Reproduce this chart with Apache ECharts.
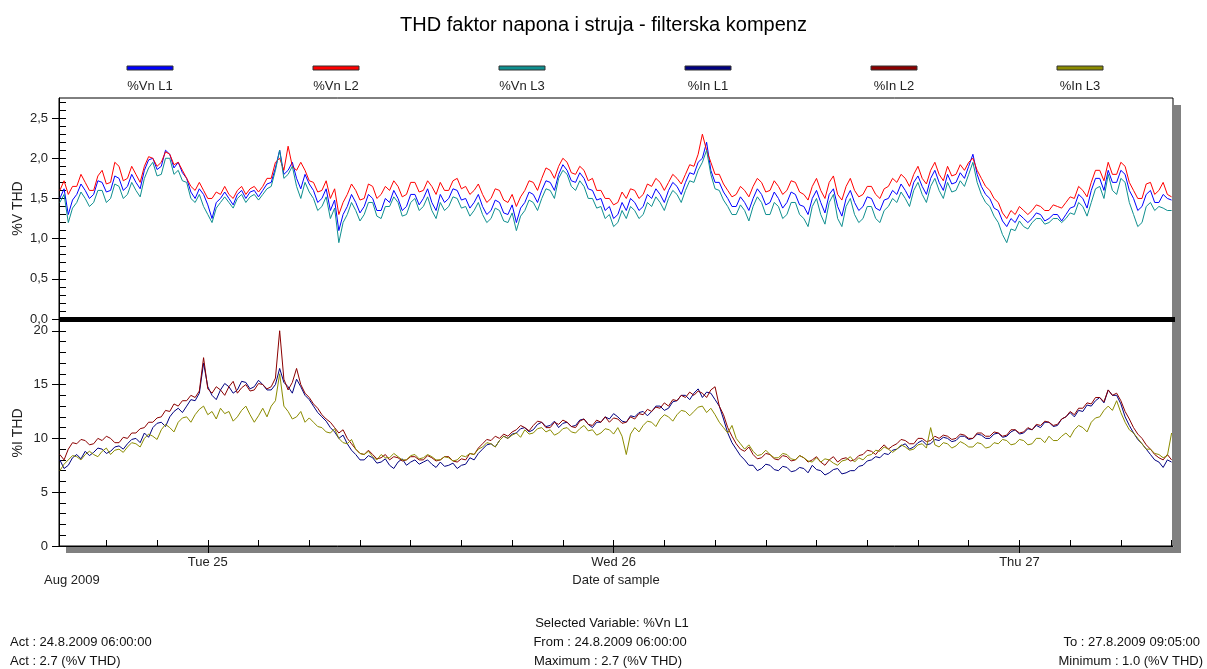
<!DOCTYPE html>
<html>
<head>
<meta charset="utf-8">
<script src="https://cdn.jsdelivr.net/npm/echarts@6/dist/echarts.min.js"></script>
<style>
html,body{margin:0;padding:0;background:#fff;}
#chart{width:1207px;height:669px;}
</style>
</head>
<body>
<div id="chart"></div>
<script>
// ---- time grid (hours since 24.8.2009 00:00) ----
const startHour = 15.25;
const stepHours = 0.25;
const axisMinHour = 15.2;
const axisMaxHour = 81.083;

// ---- tick positions / labels ----
const dayTicks = [24, 48, 72];
const dayLabels = ['Tue 25', 'Wed 26', 'Thu 27'];
const hourTicks = [18,21,24,27,30,33,36,39,42,45,48,51,54,57,60,63,66,69,72,75,78,81];
const vMajorTicks = [0, 0.5, 1.0, 1.5, 2.0, 2.5];
const vMinorTicks = [0,0.1,0.2,0.3,0.4,0.5,0.6,0.7,0.8,0.9,1.0,1.1,1.2,1.3,1.4,1.5,1.6,1.7,1.8,1.9,2.0,2.1,2.2,2.3,2.4,2.5,2.6,2.7];
const iMajorTicks = [0, 5, 10, 15, 20];
const iMinorTicks = [0,1,2,3,4,5,6,7,8,9,10,11,12,13,14,15,16,17,18,19,20,21];

// ---- series names / colours ----
const seriesNames = ['%Vn L1', '%Vn L2', '%Vn L3', '%In L1', '%In L2', '%In L3'];
const seriesColors = ['#0000ff', '#ff0000', '#0f8f8f', '#000080', '#8b0000', '#8b8b00'];

// ---- voltage THD (%) ----
const vnL1 = [
1.5,1.62, 1.3,1.48, 1.55,1.68, 1.6,1.5, 1.55,1.72, 1.7,1.58, 1.6,1.78, 1.75,1.6, 1.65,1.8, 1.7,1.62, 1.85,1.98, 2.0,1.86, 1.9,2.1, 2.05,1.88, 1.95,1.82,
1.75,1.58, 1.5,1.62, 1.55,1.42, 1.25,1.45, 1.5,1.58, 1.5,1.42, 1.55,1.6, 1.5,1.58, 1.6,1.52, 1.6,1.68, 1.7,1.88, 2.1,1.8, 1.85,1.95, 1.75,1.62, 1.8,1.68,
1.6,1.45, 1.5,1.62, 1.35,1.48, 1.1,1.3, 1.4,1.55, 1.45,1.32, 1.4,1.55, 1.5,1.35, 1.35,1.5, 1.45,1.6, 1.5,1.35, 1.4,1.55, 1.55,1.42, 1.5,1.62, 1.45,1.35,
1.55,1.45, 1.5,1.62, 1.6,1.48, 1.5,1.38, 1.45,1.55, 1.4,1.3, 1.35,1.48, 1.45,1.32, 1.3,1.42, 1.2,1.38, 1.45,1.58, 1.55,1.45, 1.6,1.72, 1.7,1.6, 1.8,1.92,
1.85,1.72, 1.7,1.82, 1.75,1.62, 1.6,1.48, 1.5,1.35, 1.4,1.25, 1.3,1.45, 1.35,1.5, 1.45,1.35, 1.4,1.55, 1.5,1.62, 1.55,1.45, 1.6,1.7, 1.65,1.55, 1.7,1.82,
1.8,1.95, 2.0,2.2, 1.85,1.7, 1.7,1.58, 1.5,1.4, 1.4,1.52, 1.45,1.35, 1.5,1.62, 1.55,1.42, 1.45,1.58, 1.5,1.38, 1.45,1.58, 1.55,1.42, 1.4,1.3, 1.5,1.6,
1.45,1.32, 1.55,1.62, 1.4,1.28, 1.5,1.6, 1.45,1.35, 1.4,1.52, 1.5,1.38, 1.35,1.48, 1.5,1.6, 1.55,1.68, 1.6,1.5, 1.7,1.78, 1.65,1.55, 1.75,1.85, 1.7,1.6,
1.8,1.68, 1.7,1.82, 1.75,1.9, 2.05,1.8, 1.65,1.55, 1.5,1.38, 1.35,1.22, 1.15,1.25, 1.2,1.3, 1.25,1.2, 1.25,1.32, 1.3,1.22, 1.25,1.3, 1.3,1.22, 1.3,1.38,
1.4,1.55, 1.5,1.38, 1.6,1.75, 1.75,1.6, 1.85,1.7, 1.7,1.85, 1.8,1.6, 1.5,1.35, 1.4,1.55, 1.6,1.45, 1.45,1.55, 1.5,1.48];
const vnL2 = [
1.6,1.72, 1.55,1.65, 1.65,1.8, 1.7,1.6, 1.6,1.78, 1.85,1.68, 1.7,1.95, 1.9,1.72, 1.75,1.9, 1.8,1.7, 1.9,2.02, 2.0,1.9, 1.95,2.08, 2.05,1.92, 1.95,1.85,
1.75,1.65, 1.6,1.7, 1.6,1.5, 1.5,1.58, 1.55,1.65, 1.55,1.5, 1.6,1.65, 1.55,1.62, 1.65,1.58, 1.65,1.75, 1.75,1.95, 2.0,1.85, 2.15,1.9, 1.85,1.95, 1.85,1.72,
1.7,1.58, 1.6,1.72, 1.5,1.62, 1.3,1.45, 1.55,1.68, 1.6,1.48, 1.5,1.68, 1.65,1.5, 1.55,1.65, 1.6,1.72, 1.65,1.52, 1.55,1.7, 1.7,1.58, 1.6,1.72, 1.65,1.55,
1.7,1.6, 1.6,1.72, 1.75,1.62, 1.65,1.55, 1.6,1.68, 1.55,1.45, 1.5,1.62, 1.6,1.48, 1.45,1.55, 1.4,1.52, 1.6,1.72, 1.7,1.6, 1.75,1.88, 1.85,1.75, 1.9,2.0,
1.95,1.82, 1.8,1.9, 1.85,1.72, 1.75,1.6, 1.6,1.5, 1.5,1.42, 1.45,1.58, 1.5,1.62, 1.6,1.5, 1.55,1.68, 1.65,1.75, 1.7,1.6, 1.7,1.8, 1.75,1.68, 1.8,1.92,
1.9,2.05, 2.3,2.1, 1.95,1.8, 1.8,1.68, 1.6,1.52, 1.55,1.65, 1.6,1.52, 1.65,1.75, 1.7,1.58, 1.6,1.72, 1.65,1.55, 1.6,1.72, 1.7,1.58, 1.55,1.48, 1.65,1.75,
1.6,1.5, 1.7,1.78, 1.55,1.48, 1.65,1.75, 1.6,1.52, 1.55,1.65, 1.65,1.55, 1.5,1.62, 1.65,1.75, 1.7,1.8, 1.75,1.65, 1.8,1.9, 1.75,1.68, 1.85,1.95, 1.8,1.72,
1.9,1.78, 1.8,1.92, 1.85,1.95, 2.0,1.85, 1.75,1.65, 1.6,1.5, 1.45,1.32, 1.25,1.35, 1.3,1.4, 1.35,1.3, 1.35,1.42, 1.4,1.35, 1.35,1.42, 1.4,1.38, 1.45,1.52,
1.5,1.65, 1.6,1.52, 1.7,1.85, 1.85,1.72, 1.95,1.8, 1.8,1.95, 1.9,1.7, 1.6,1.5, 1.5,1.68, 1.7,1.55, 1.6,1.7, 1.55,1.52];
const vnL3 = [
1.45,1.55, 1.2,1.38, 1.45,1.58, 1.5,1.4, 1.45,1.6, 1.6,1.45, 1.5,1.68, 1.65,1.5, 1.55,1.7, 1.6,1.52, 1.75,1.88, 1.95,1.78, 1.8,2.0, 2.0,1.8, 1.85,1.72,
1.7,1.5, 1.45,1.55, 1.4,1.3, 1.2,1.38, 1.45,1.52, 1.45,1.38, 1.5,1.55, 1.45,1.52, 1.55,1.48, 1.55,1.62, 1.65,1.85, 2.1,1.75, 1.8,1.9, 1.65,1.5, 1.7,1.58,
1.5,1.35, 1.4,1.52, 1.25,1.38, 0.95,1.2, 1.3,1.45, 1.35,1.22, 1.3,1.45, 1.45,1.28, 1.25,1.4, 1.4,1.52, 1.45,1.28, 1.3,1.45, 1.5,1.35, 1.4,1.52, 1.35,1.25,
1.45,1.35, 1.4,1.52, 1.5,1.38, 1.4,1.28, 1.35,1.45, 1.3,1.2, 1.25,1.38, 1.35,1.22, 1.2,1.32, 1.1,1.28, 1.35,1.48, 1.45,1.35, 1.5,1.62, 1.6,1.5, 1.75,1.85,
1.8,1.65, 1.6,1.72, 1.65,1.5, 1.5,1.38, 1.4,1.25, 1.3,1.15, 1.2,1.35, 1.25,1.4, 1.35,1.25, 1.3,1.45, 1.4,1.52, 1.45,1.35, 1.5,1.6, 1.55,1.45, 1.6,1.72,
1.7,1.85, 1.95,2.1, 1.8,1.62, 1.6,1.48, 1.4,1.3, 1.3,1.42, 1.35,1.22, 1.4,1.52, 1.45,1.3, 1.3,1.45, 1.4,1.25, 1.3,1.45, 1.45,1.3, 1.25,1.15, 1.4,1.5,
1.3,1.18, 1.45,1.55, 1.25,1.15, 1.4,1.5, 1.3,1.2, 1.25,1.4, 1.4,1.25, 1.2,1.35, 1.4,1.5, 1.45,1.58, 1.5,1.4, 1.6,1.7, 1.55,1.45, 1.65,1.75, 1.6,1.5,
1.7,1.58, 1.6,1.72, 1.65,1.8, 1.95,1.7, 1.55,1.45, 1.4,1.28, 1.2,1.05, 0.95,1.12, 1.1,1.22, 1.15,1.12, 1.2,1.25, 1.25,1.18, 1.2,1.25, 1.25,1.2, 1.25,1.32,
1.3,1.45, 1.4,1.28, 1.45,1.62, 1.65,1.5, 1.8,1.6, 1.55,1.75, 1.7,1.45, 1.3,1.15, 1.2,1.4, 1.45,1.35, 1.4,1.38, 1.35,1.35];

// ---- current THD (%) ----
const inL1 = [
8.0,7.2, 7.5,8.2, 8.5,8.1, 8.8,8.4, 8.7,9.1, 9.0,8.6, 8.8,9.2, 9.3,9.0, 9.5,9.9, 10.0,9.6, 10.5,10.1, 11.0,11.4, 11.5,11.1, 12.0,12.5, 12.8,12.4,
13.0,13.6, 13.5,14.2, 17.0,14.8, 14.0,13.6, 14.5,15.1, 14.8,14.2, 14.5,15.3, 15.2,14.6, 14.8,15.4, 15.0,14.5, 14.5,15.0, 16.5,15.2, 14.8,14.2, 15.5,14.8, 14.0,13.6,
13.0,12.4, 12.0,11.6, 11.0,10.6, 10.0,10.3, 9.5,8.9, 8.5,8.0, 8.0,8.4, 8.2,7.7, 7.8,8.1, 7.5,7.2, 7.8,8.1, 7.5,7.8, 8.0,7.6, 7.8,8.0, 7.6,7.3,
7.8,7.4, 7.5,7.7, 7.2,7.5, 7.6,8.2, 8.0,8.6, 9.0,9.4, 9.5,9.2, 9.8,10.2, 10.0,10.4, 10.5,10.9, 11.0,10.6, 10.8,11.3, 11.5,11.1, 11.2,11.6, 11.0,11.4,
11.5,11.1, 11.2,11.7, 11.8,11.3, 11.0,11.5, 11.5,12.0, 11.8,12.3, 12.0,11.6, 11.5,12.1, 12.0,12.4, 12.5,12.1, 12.5,13.0, 13.0,12.6, 12.8,13.4, 13.5,14.0, 14.0,13.6,
14.2,14.6, 13.8,14.3, 14.2,13.6, 13.0,11.8, 10.5,9.6, 9.0,8.4, 8.0,7.5, 7.5,7.0, 7.2,7.6, 7.5,7.1, 7.0,7.4, 7.3,6.9, 7.0,7.3, 7.2,6.8, 7.5,7.1,
7.0,6.6, 6.8,7.1, 7.2,6.7, 6.8,7.0, 7.0,7.4, 7.5,7.9, 8.0,8.3, 8.2,8.6, 8.5,8.9, 9.0,9.3, 9.5,9.0, 9.2,9.6, 9.8,9.4, 9.5,9.9, 9.8,10.1,
10.0,9.7, 9.8,10.2, 10.2,9.9, 10.0,10.4, 10.3,10.0, 10.0,10.4, 10.5,10.1, 10.2,10.6, 10.8,10.4, 10.5,10.9, 10.8,11.2, 11.0,11.5, 11.5,11.1, 11.2,11.8, 12.0,12.4,
12.0,12.6, 12.5,13.1, 13.0,13.5, 13.8,13.3, 14.5,14.0, 14.0,13.2, 12.0,11.2, 10.5,9.9, 9.5,9.0, 8.5,8.0, 7.8,7.3, 8.0,7.8];
const inL2 = [
8.5,8.0, 9.0,9.6, 9.5,9.9, 9.8,9.4, 9.5,10.0, 9.8,10.2, 10.0,9.6, 9.6,10.1, 10.0,10.5, 10.5,10.9, 11.0,11.5, 11.5,11.9, 12.0,12.6, 12.5,13.2, 13.0,13.5,
13.5,14.0, 13.8,14.4, 17.5,14.6, 14.2,14.8, 14.5,14.0, 14.8,15.3, 14.2,14.7, 15.0,14.4, 14.5,15.1, 15.0,14.6, 14.8,15.6, 20.0,15.5, 14.5,15.2, 16.5,15.0, 14.2,13.8,
13.2,12.8, 12.2,11.8, 11.5,11.0, 10.5,10.8, 10.0,9.5, 9.0,8.6, 8.5,8.9, 8.5,8.1, 8.2,8.5, 8.0,8.3, 8.2,7.9, 8.0,8.3, 8.3,8.0, 8.0,8.4, 8.2,7.9,
8.0,8.3, 8.3,7.9, 7.8,8.1, 8.0,8.6, 8.5,9.1, 9.5,9.9, 9.8,10.2, 10.0,10.4, 10.2,10.6, 10.8,11.2, 11.0,10.7, 11.2,11.6, 11.5,11.0, 11.0,11.5, 11.3,11.7,
11.5,11.1, 11.0,11.6, 11.8,11.3, 11.2,11.7, 11.5,12.0, 11.5,11.9, 11.8,11.4, 11.5,12.0, 11.8,12.3, 12.2,12.7, 12.5,12.9, 12.8,13.3, 13.0,13.6, 13.5,14.0, 13.8,14.3,
14.0,14.4, 14.2,13.8, 14.5,14.8, 13.0,12.2, 11.0,10.2, 9.5,9.0, 8.8,9.2, 8.5,8.1, 8.2,8.6, 8.5,8.1, 8.0,8.4, 8.3,7.9, 8.0,8.4, 8.2,7.8, 8.0,8.3,
7.8,7.5, 8.0,8.3, 7.8,8.1, 8.2,7.9, 8.0,8.4, 8.5,8.9, 8.8,8.5, 9.0,9.4, 9.0,9.3, 9.5,9.9, 9.8,9.5, 9.5,10.0, 10.0,9.7, 9.8,10.2, 10.0,10.3,
10.2,9.9, 10.0,10.4, 10.3,10.0, 10.0,10.5, 10.5,10.2, 10.2,10.6, 10.5,10.2, 10.3,10.8, 10.8,10.5, 10.6,11.0, 10.8,11.3, 11.2,11.6, 11.5,11.2, 11.3,11.8, 12.0,12.5,
12.2,12.8, 12.8,13.3, 13.2,13.8, 13.8,13.4, 14.5,14.0, 14.2,13.5, 12.5,11.8, 11.0,10.4, 10.0,9.4, 9.0,8.5, 8.2,8.0, 8.5,8.0];
const inL3 = [
7.0,7.6, 8.0,8.4, 8.3,8.0, 8.5,8.8, 8.5,8.3, 8.8,9.1, 8.5,8.9, 9.0,8.7, 9.2,9.6, 9.5,9.2, 10.0,10.4, 10.2,9.9, 10.8,11.3, 11.0,10.6, 11.5,11.9,
12.0,11.5, 12.2,12.7, 13.0,12.2, 12.5,11.8, 12.8,12.3, 12.5,11.6, 12.0,12.6, 13.0,12.2, 11.5,12.1, 12.8,12.0, 13.0,13.5, 16.0,13.0, 12.5,11.8, 12.0,12.5, 11.5,11.9,
11.5,11.1, 11.0,10.6, 10.5,10.9, 10.0,9.6, 9.5,9.9, 9.0,8.6, 8.5,8.8, 8.3,8.0, 8.5,8.2, 8.2,8.6, 8.3,8.0, 8.0,8.4, 8.5,8.1, 8.2,8.5, 8.3,8.0,
8.0,8.3, 8.2,7.9, 8.0,8.4, 8.3,8.6, 8.5,9.0, 9.2,9.6, 9.5,9.2, 9.8,10.2, 10.0,10.3, 10.5,10.1, 10.8,10.4, 10.5,10.9, 11.0,10.6, 10.8,10.3, 10.5,10.9,
11.0,10.6, 10.5,10.9, 11.2,10.7, 10.8,10.3, 10.5,10.9, 10.8,10.4, 11.0,10.2, 8.5,10.4, 11.0,10.6, 11.2,11.6, 11.5,11.1, 11.8,12.2, 12.0,11.6, 12.2,12.6, 12.5,12.1,
12.5,12.9, 13.0,12.4, 12.8,12.2, 11.5,11.0, 10.5,11.2, 10.0,9.5, 9.0,9.4, 8.8,8.4, 8.5,8.9, 8.5,8.2, 8.2,8.6, 8.5,8.1, 8.0,8.4, 8.2,7.9, 7.8,8.2,
7.8,8.1, 8.0,7.7, 7.5,7.9, 8.0,8.3, 7.8,8.2, 8.0,8.4, 8.5,8.9, 8.8,9.2, 9.0,8.7, 9.0,9.4, 9.2,8.9, 9.0,9.4, 9.5,9.1, 11.0,9.4, 9.2,9.6,
9.5,9.1, 9.3,9.7, 9.5,9.2, 9.2,9.6, 9.5,9.1, 9.2,9.6, 9.5,9.9, 9.8,9.4, 9.5,9.9, 9.8,9.4, 9.5,10.0, 10.0,9.6, 10.2,9.8, 9.8,10.2, 10.5,10.1,
10.8,11.2, 11.0,10.6, 11.5,11.9, 12.0,12.6, 13.0,12.6, 13.5,12.4, 11.5,10.8, 10.5,10.0, 9.5,9.0, 9.0,8.6, 8.5,8.2, 8.4,10.5];

// ---- footer texts ----
const footerCenter = ['Selected Variable: %Vn L1', 'From : 24.8.2009 06:00:00', 'Maximum : 2.7 (%V THD)'];
const footerLeft = ['Act : 24.8.2009 06:00:00', 'Act : 2.7 (%V THD)'];
const footerRight = ['To : 27.8.2009 09:05:00', 'Minimum : 1.0 (%V THD)'];

function pairs(arr) {
  return arr.map((v, i) => [startHour + i * stepHours, v]);
}

const FONT = 'Liberation Sans, Arial, sans-serif';
const chart = echarts.init(document.getElementById('chart'), null, {renderer: 'canvas'});

const allData = [vnL1, vnL2, vnL3, inL1, inL2, inL3];
const series = allData.map((arr, k) => ({
  name: seriesNames[k],
  type: 'line',
  xAxisIndex: k < 3 ? 0 : 1,
  yAxisIndex: k < 3 ? 0 : 2,
  data: pairs(arr),
  showSymbol: false,
  symbol: 'none',
  lineStyle: {width: 1, color: seriesColors[k]},
  itemStyle: {color: seriesColors[k]},
  animation: false,
  z: 2 + k
}));

const graphics = [];
// shadows
graphics.push({type: 'rect', z: -1, shape: {x: 1174, y: 105, width: 7, height: 448}, style: {fill: '#808080'}});
graphics.push({type: 'rect', z: -1, shape: {x: 66, y: 547, width: 1115, height: 6}, style: {fill: '#808080'}});
// thick separator
graphics.push({type: 'rect', z: 50, shape: {x: 59, y: 317, width: 1116, height: 5}, style: {fill: '#000'}});
// legend
seriesNames.forEach((n, k) => {
  const cx = 150 + 186 * k;
  graphics.push({type: 'rect', shape: {x: cx - 23, y: 66, width: 46, height: 4},
    style: {fill: seriesColors[k], stroke: '#333', lineWidth: 1}});
  graphics.push({type: 'text', x: cx, y: 86,
    style: {text: n, font: '13px ' + FONT, fill: '#222', align: 'center', verticalAlign: 'middle'}});
});
// x axis extra texts
graphics.push({type: 'text', x: 44, y: 580, style: {text: 'Aug 2009', font: '13px ' + FONT, fill: '#222', align: 'left', verticalAlign: 'middle'}});
graphics.push({type: 'text', x: 616, y: 580, style: {text: 'Date of sample', font: '13px ' + FONT, fill: '#222', align: 'center', verticalAlign: 'middle'}});
// footer
graphics.push({type: 'text', x: 612, y: 623, style: {text: footerCenter[0], font: '13px ' + FONT, fill: '#111', align: 'center', verticalAlign: 'middle'}});
graphics.push({type: 'text', x: 610, y: 642, style: {text: footerCenter[1], font: '13px ' + FONT, fill: '#111', align: 'center', verticalAlign: 'middle'}});
graphics.push({type: 'text', x: 608, y: 661, style: {text: footerCenter[2], font: '13px ' + FONT, fill: '#111', align: 'center', verticalAlign: 'middle'}});
graphics.push({type: 'text', x: 10, y: 642, style: {text: footerLeft[0], font: '13px ' + FONT, fill: '#111', align: 'left', verticalAlign: 'middle'}});
graphics.push({type: 'text', x: 10, y: 661, style: {text: footerLeft[1], font: '13px ' + FONT, fill: '#111', align: 'left', verticalAlign: 'middle'}});
graphics.push({type: 'text', x: 1200, y: 642, style: {text: footerRight[0], font: '13px ' + FONT, fill: '#111', align: 'right', verticalAlign: 'middle'}});
graphics.push({type: 'text', x: 1203, y: 661, style: {text: footerRight[1], font: '13px ' + FONT, fill: '#111', align: 'right', verticalAlign: 'middle'}});

const labelStyle = {color: '#222', fontSize: 13, fontFamily: FONT};

const option = {
  backgroundColor: '#fff',
  animation: false,
  title: {
    text: 'THD faktor napona i struja - filterska kompenz',
    left: 'center', top: 10,
    textStyle: {fontSize: 20, fontWeight: 'normal', color: '#000', fontFamily: FONT}
  },
  grid: [
    {left: 59, top: 98, width: 1114, height: 221, show: true, borderColor: '#000', borderWidth: 1, backgroundColor: '#fff', containLabel: false, outerBoundsMode: 'none'},
    {left: 59, top: 320, width: 1114, height: 226, show: true, borderColor: '#000', borderWidth: 1, backgroundColor: '#fff', containLabel: false, outerBoundsMode: 'none'}
  ],
  xAxis: [
    {type: 'value', gridIndex: 0, min: axisMinHour, max: axisMaxHour, show: false, splitLine: {show: false}},
    {type: 'value', gridIndex: 1, position: 'bottom', min: axisMinHour, max: axisMaxHour,
      axisLine: {show: true, lineStyle: {color: '#000', width: 1}},
      axisTick: {show: true, inside: true, length: 6, customValues: hourTicks, lineStyle: {color: '#000'}},
      axisLabel: {show: false}, splitLine: {show: false}},
    {type: 'value', gridIndex: 1, position: 'bottom', min: axisMinHour, max: axisMaxHour,
      axisLine: {show: false},
      axisTick: {show: true, inside: false, length: 7, customValues: dayTicks, lineStyle: {color: '#000'}},
      axisLabel: Object.assign({show: true, margin: 10, customValues: dayTicks,
        formatter: v => dayLabels[dayTicks.indexOf(Math.round(v))] || ''}, labelStyle),
      splitLine: {show: false}}
  ],
  yAxis: [
    {type: 'value', gridIndex: 0, position: 'left', min: 0, max: 2.75,
      name: '%V THD', nameLocation: 'middle', nameGap: 34, nameRotate: 90, nameMoveOverlap: false,
      nameTextStyle: {color: '#222', fontSize: 14, fontFamily: FONT},
      axisLine: {show: true, lineStyle: {color: '#000'}},
      axisTick: {show: true, inside: false, length: 7, customValues: vMajorTicks, lineStyle: {color: '#000'}},
      axisLabel: Object.assign({margin: 11, customValues: vMajorTicks,
        formatter: v => v.toFixed(1).replace('.', ',')}, labelStyle),
      splitLine: {show: false}},
    {type: 'value', gridIndex: 0, position: 'left', min: 0, max: 2.75,
      axisLine: {show: false},
      axisTick: {show: true, inside: true, length: 7, customValues: vMinorTicks, lineStyle: {color: '#000'}},
      axisLabel: {show: false}, splitLine: {show: false}},
    {type: 'value', gridIndex: 1, position: 'left', min: 0, max: 21,
      name: '%I THD', nameLocation: 'middle', nameGap: 34, nameRotate: 90, nameMoveOverlap: false,
      nameTextStyle: {color: '#222', fontSize: 14, fontFamily: FONT},
      axisLine: {show: true, lineStyle: {color: '#000'}},
      axisTick: {show: true, inside: false, length: 7, customValues: iMajorTicks, lineStyle: {color: '#000'}},
      axisLabel: Object.assign({margin: 11, customValues: iMajorTicks}, labelStyle),
      splitLine: {show: false}},
    {type: 'value', gridIndex: 1, position: 'left', min: 0, max: 21,
      axisLine: {show: false},
      axisTick: {show: true, inside: true, length: 7, customValues: iMinorTicks, lineStyle: {color: '#000'}},
      axisLabel: {show: false}, splitLine: {show: false}}
  ],
  graphic: graphics,
  series: series
};
chart.setOption(option);
</script>
</body>
</html>
